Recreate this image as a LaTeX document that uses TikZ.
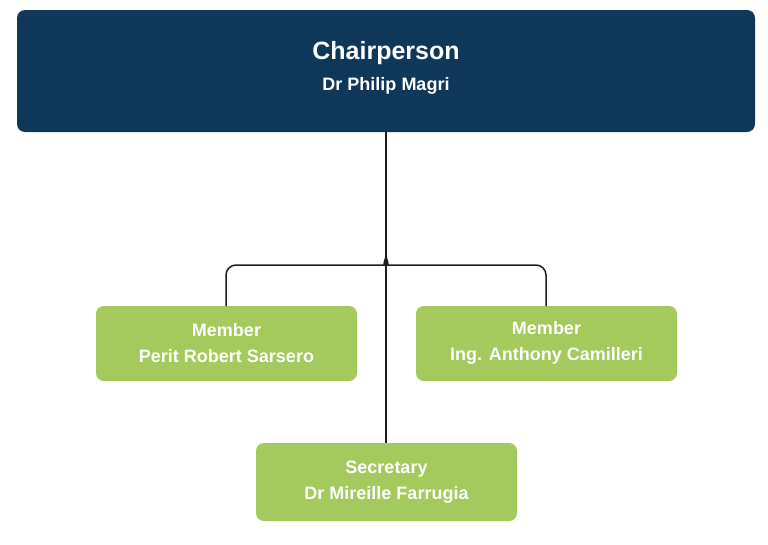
\documentclass[tikz,border=0pt]{standalone}
\usepackage{fontspec}
\setmainfont{Liberation Sans}
\begin{document}
\begin{tikzpicture}[x=1pt,y=-1pt,
 chair/.style={fill={rgb,255:red,15;green,55;blue,89},rounded corners=8pt,draw=none},
 mem/.style={fill={rgb,255:red,164;green,201;blue,92},rounded corners=8pt,draw=none},
 lnk/.style={draw={rgb,255:red,30;green,30;blue,30},line width=1.5pt,rounded corners=10pt}]
\useasboundingbox (0,0) rectangle (768,544);
\path[chair] (17,10) rectangle (755,132);
\node[text=white,font=\bfseries\fontsize{25}{30}\selectfont,align=center] (c) at (386,53) {Chairperson};
\node[text=white,font=\bfseries\fontsize{18}{22}\selectfont] (c2) at (386,86) {Dr Philip Magri};
\coordinate (cb) at (386,132);
\path[mem] (96,306) rectangle (357,381);
\node[text=white,font=\bfseries\fontsize{18}{26}\selectfont,align=center] (l) at (226.5,343) {Member\\Perit Robert Sarsero};
\path[mem] (416,306) rectangle (677,381);
\node[text=white,font=\bfseries\fontsize{18}{26}\selectfont,align=center] (r) at (546.5,343) {Member\\Ing. Anthony Camilleri};
\path[mem] (256,443) rectangle (517,521);
\node[text=white,font=\bfseries\fontsize{18}{26}\selectfont,align=center] (s) at (386.5,482) {Secretary\\Dr Mireille Farrugia};
\coordinate (lt) at (226,306);
\coordinate (rt) at (546,306);
\coordinate (st) at (386,443);
\coordinate (j) at (386,255);
\draw[lnk] (cb) -- (st);
\draw[lnk] (j) to[out=-90,in=0] (376,265) -- (226,265) -- (lt);
\draw[lnk] (j) to[out=-90,in=180] (396,265) -- (546,265) -- (rt);
\end{tikzpicture}
\end{document}
